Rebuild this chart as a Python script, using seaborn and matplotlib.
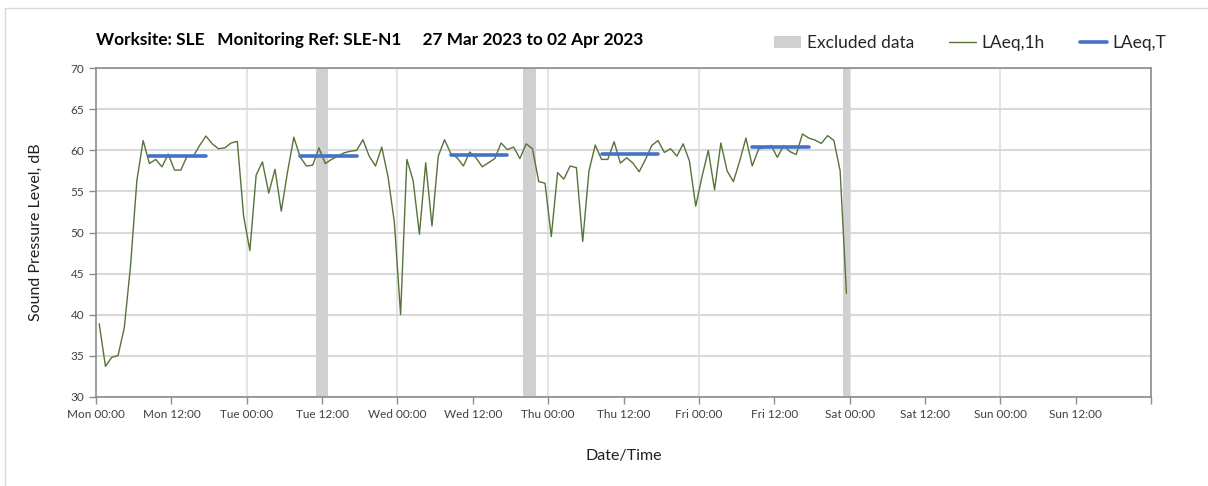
import numpy as np
import pandas as pd
import matplotlib
matplotlib.use("Agg")
import matplotlib.pyplot as plt
from matplotlib.patches import Patch
from matplotlib.lines import Line2D
import seaborn as sns

# ---------------- data ----------------
# hourly LAeq,1h values, Mon 00:00 (hour 0) to Fri 23:00 (hour 119)
laeq_1h = [
    38.9, 33.7, 34.8, 35.0, 38.4, 46.0, 56.3, 61.2, 58.4, 58.9, 58.0, 59.55,
    57.6, 57.6, 59.3, 59.3, 60.6, 61.75, 60.8, 60.2, 60.3, 60.9, 61.1, 52.0,
    47.8, 57.0, 58.6, 54.8, 57.7, 52.6, 57.4, 61.6, 59.2, 58.1, 58.2, 60.3,
    58.4, 58.9, 59.3, 59.7, 59.9, 60.0, 61.3, 59.3, 58.1, 60.4, 56.8, 51.3,
    40.0, 58.9, 56.3, 49.8, 58.5, 50.8, 59.3, 61.3, 59.6, 59.1, 58.1, 59.8,
    59.1, 58.0, 58.5, 59.0, 60.9, 60.1, 60.4, 59.0, 60.8, 60.2, 56.2, 56.0,
    49.5, 57.3, 56.5, 58.1, 57.9, 48.9, 57.5, 60.65, 58.9, 58.9, 61.05, 58.45,
    59.1, 58.45, 57.4, 58.9, 60.6, 61.2, 59.75, 60.2, 59.3, 60.8, 58.7, 53.2,
    56.8, 60.0, 55.2, 60.9, 57.5, 56.2, 58.7, 61.5, 58.1, 60.15, 60.4, 60.6,
    59.15, 60.6, 59.85, 59.5, 62.0, 61.5, 61.25, 60.85, 61.8, 61.2, 57.5, 42.6,
]
hour_start = list(range(len(laeq_1h)))          # hour of period start
period_mid = 0.5                                   # points plotted at period centre

# LAeq,T daytime (08:00-18:00) per weekday
laeqT_days = [0, 1, 2, 3, 4]
laeqT_values = [59.3, 59.3, 59.4, 59.5, 60.4]
laeqT_start_hour = 8
laeqT_end_hour = 18

# excluded data periods (hours from Mon 00:00)
excl_start = [35, 68, 119]
excl_end = [37, 70, 120]

tick_hours = list(range(0, 168, 12))
tick_labels = ["Mon 00:00", "Mon 12:00", "Tue 00:00", "Tue 12:00", "Wed 00:00",
               "Wed 12:00", "Thu 00:00", "Thu 12:00", "Fri 00:00", "Fri 12:00",
               "Sat 00:00", "Sat 12:00", "Sun 00:00", "Sun 12:00"]

title = "Worksite: SLE   Monitoring Ref: SLE-N1     27 Mar 2023 to 02 Apr 2023"

# ---------------- styling ----------------
sns.set_theme(style="white")
plt.rcParams["font.family"] = ["Lato", "DejaVu Sans"]

GREEN = "#56733a"
BLUE = "#4472c4"
GREY_BAND = "#d0d0d0"
GRID = "#d9d9d9"
SPINE = "#8c8c8c"

fig = plt.figure(figsize=(12.08, 4.86), dpi=100)
ax = fig.add_axes([0.0795, 0.1837, 0.8733, 0.6758])

df = pd.DataFrame({"t": np.array(hour_start) + period_mid, "L": laeq_1h})

# excluded bands
for s, e in zip(excl_start, excl_end):
    ax.axvspan(s, e, color=GREY_BAND, lw=0, zorder=1)

# grid
ax.set_ylim(30, 70)
ax.set_xlim(0, 168)
ax.set_yticks(np.arange(30, 71, 5))
ax.yaxis.grid(True, color=GRID, lw=1.5, zorder=0)
ax.set_axisbelow(True)
for d in range(24, 168, 24):
    ax.axvline(d, color="#e4e4e4", lw=1.5, zorder=0.5)

sns.lineplot(data=df, x="t", y="L", ax=ax, color=GREEN, lw=1.0, zorder=3)

for d, v in zip(laeqT_days, laeqT_values):
    seg = pd.DataFrame({"t": [d * 24 + laeqT_start_hour + period_mid,
                              d * 24 + laeqT_end_hour - period_mid],
                        "L": [v, v]})
    sns.lineplot(data=seg, x="t", y="L", ax=ax, color=BLUE, lw=2.6, zorder=4)

ax.set_xticks(tick_hours + [168])
ax.set_xticklabels(tick_labels + [""], fontsize=8.5, color="#404040")
ax.tick_params(axis="y", labelsize=8.5, labelcolor="#404040")
ax.tick_params(axis="both", which="major", direction="out", length=5,
               color=SPINE, width=1, left=True, bottom=True)

for sp in ax.spines.values():
    sp.set_color(SPINE)
    sp.set_linewidth(1.2)
    sp.set_visible(True)

ax.set_xlabel("Date/Time", fontsize=11.5, color="#202020", labelpad=21)
ax.set_ylabel("Sound Pressure Level, dB", fontsize=11.5, color="#202020", labelpad=20)

fig.text(0.0795, 0.918, title, fontsize=12.4, fontweight="bold",
         color="#000000", va="center", ha="left")

handles = [Patch(facecolor=GREY_BAND, edgecolor="none"),
           Line2D([0], [0], color=GREEN, lw=1.0),
           Line2D([0], [0], color=BLUE, lw=2.6)]
fig.legend(handles, ["Excluded data", "LAeq,1h", "LAeq,T"], loc="center",
           bbox_to_anchor=(0.803, 0.911), ncol=3, frameon=False, fontsize=12.5,
           handlelength=1.6, handletextpad=0.3, columnspacing=2.0,
           handleheight=0.7)

# chart-area border (left and top)
fig.add_artist(Line2D([5 / 1208, 5 / 1208], [0, 1 - 8 / 486], color="#d9d9d9", lw=1))
fig.add_artist(Line2D([5 / 1208, 1], [1 - 8 / 486, 1 - 8 / 486], color="#d9d9d9", lw=1))

fig.savefig("out.png", dpi=100, facecolor="white")
